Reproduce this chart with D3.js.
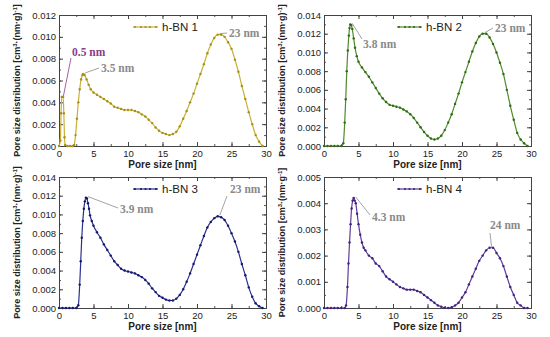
<!DOCTYPE html>
<html>
<head>
<meta charset="utf-8">
<script src="https://cdn.jsdelivr.net/npm/d3@7"></script>
<style>
  body { margin: 0; background: #fff; }
  svg { display: block; font-family: "Liberation Sans", Arial, sans-serif; }
</style>
</head>
<body>
<svg id="chart" width="550" height="337"></svg>
<script>
// pore size [nm] and distribution values
var bn1X = [0, 0.2, 0.3, 0.4, 0.5, 0.6, 0.7, 0.8, 0.9, 1.2, 1.6, 2.0, 2.2, 2.4, 2.6, 2.8, 3.0, 3.2, 3.4, 3.5, 3.7, 4.0, 4.3, 4.6, 5.0, 5.5, 6.0, 6.5, 7.0, 7.5, 8.0, 8.5, 9.0, 9.5, 10.0, 10.5, 11.0, 11.5, 12.0, 12.5, 13.0, 13.5, 14.0, 14.5, 15.0, 15.5, 16.0, 16.5, 17.0, 17.5, 18.0, 18.5, 19.0, 19.5, 20.0, 20.5, 21.0, 21.5, 22.0, 22.5, 23.0, 23.5, 24.0, 24.5, 25.0, 25.5, 26.0, 26.5, 27.0, 27.5, 28.0, 28.5, 29.0, 29.5];
var bn1Y = [0, 0.0005, 0.0030, 0.0045, 0.0045, 0.0045, 0.0030, 0.0008, 0.0001, 0, 0, 0, 0.0001, 0.0010, 0.0025, 0.0040, 0.0052, 0.0061, 0.0065, 0.0066, 0.0065, 0.0061, 0.0056, 0.0052, 0.0049, 0.0047, 0.0045, 0.0043, 0.0041, 0.0039, 0.0036, 0.0035, 0.0034, 0.0033, 0.0033, 0.0033, 0.0032, 0.0031, 0.0029, 0.0027, 0.0024, 0.0021, 0.0017, 0.0014, 0.0012, 0.0011, 0.0010, 0.0011, 0.0013, 0.0018, 0.0025, 0.0032, 0.0040, 0.0048, 0.0057, 0.0066, 0.0075, 0.0085, 0.0093, 0.0099, 0.0102, 0.0102, 0.0100, 0.0095, 0.0089, 0.0079, 0.0068, 0.0055, 0.0043, 0.0031, 0.0020, 0.0010, 0.0004, 0];

var bn2X = [0, 0.5, 1.0, 1.5, 2.0, 2.5, 2.8, 3.0, 3.15, 3.3, 3.45, 3.6, 3.7, 3.8, 3.95, 4.1, 4.3, 4.5, 4.75, 5.0, 5.5, 6.0, 6.5, 7.0, 7.5, 8.0, 8.5, 9.0, 9.5, 10.0, 10.5, 11.0, 11.5, 12.0, 12.5, 13.0, 13.5, 14.0, 14.5, 15.0, 15.5, 16.0, 16.5, 17.0, 17.5, 18.0, 18.5, 19.0, 19.5, 20.0, 20.5, 21.0, 21.5, 22.0, 22.5, 23.0, 23.5, 24.0, 24.5, 25.0, 25.5, 26.0, 26.5, 27.0, 27.5, 28.0, 28.5, 29.0, 29.5];
var bn2Y = [0, 0, 0, 0, 0, 0, 0.0003, 0.0025, 0.0050, 0.0080, 0.0102, 0.0118, 0.0126, 0.0130, 0.0129, 0.0125, 0.0115, 0.0105, 0.0096, 0.0090, 0.0084, 0.0079, 0.0074, 0.0068, 0.0062, 0.0056, 0.0051, 0.0047, 0.0044, 0.0043, 0.0042, 0.0041, 0.0039, 0.0037, 0.0034, 0.0030, 0.0025, 0.0020, 0.0015, 0.0011, 0.0008, 0.0007, 0.0008, 0.0011, 0.0017, 0.0025, 0.0034, 0.0045, 0.0056, 0.0068, 0.0079, 0.0090, 0.0101, 0.0110, 0.0117, 0.0120, 0.0120, 0.0116, 0.0109, 0.0100, 0.0089, 0.0077, 0.0060, 0.0043, 0.0028, 0.0014, 0.0007, 0.0003, 0];

var bn3X = [0, 0.5, 1.0, 1.5, 2.0, 2.5, 2.8, 3.0, 3.15, 3.3, 3.45, 3.6, 3.75, 3.9, 4.05, 4.2, 4.35, 4.5, 4.75, 5.0, 5.5, 6.0, 6.5, 7.0, 7.5, 8.0, 8.5, 9.0, 9.5, 10.0, 10.5, 11.0, 11.5, 12.0, 12.5, 13.0, 13.5, 14.0, 14.5, 15.0, 15.5, 16.0, 16.5, 17.0, 17.5, 18.0, 18.5, 19.0, 19.5, 20.0, 20.5, 21.0, 21.5, 22.0, 22.5, 23.0, 23.5, 24.0, 24.5, 25.0, 25.5, 26.0, 26.5, 27.0, 27.5, 28.0, 28.5, 29.0, 29.5];
var bn3Y = [0, 0, 0, 0, 0, 0, 0.0003, 0.0025, 0.0050, 0.0075, 0.0093, 0.0106, 0.0114, 0.0118, 0.0117, 0.0112, 0.0106, 0.0099, 0.0093, 0.0088, 0.0081, 0.0075, 0.0068, 0.0062, 0.0056, 0.0050, 0.0046, 0.0042, 0.0040, 0.0039, 0.0038, 0.0037, 0.0035, 0.0033, 0.0030, 0.0026, 0.0021, 0.0017, 0.0013, 0.0011, 0.0009, 0.0008, 0.0008, 0.0010, 0.0014, 0.0020, 0.0028, 0.0037, 0.0047, 0.0057, 0.0067, 0.0077, 0.0086, 0.0092, 0.0096, 0.0098, 0.0097, 0.0094, 0.0088, 0.0080, 0.0071, 0.0060, 0.0047, 0.0035, 0.0022, 0.0012, 0.0005, 0.0002, 0];

var bn4X = [0, 0.5, 1.0, 1.5, 2.0, 2.5, 3.0, 3.2, 3.4, 3.55, 3.7, 3.85, 4.0, 4.15, 4.3, 4.45, 4.6, 4.8, 5.0, 5.25, 5.5, 5.75, 6.0, 6.5, 7.0, 7.5, 8.0, 8.5, 9.0, 9.5, 10.0, 10.5, 11.0, 11.5, 12.0, 12.5, 13.0, 13.5, 14.0, 14.5, 15.0, 15.5, 16.0, 16.5, 17.0, 17.5, 18.0, 18.5, 19.0, 19.5, 20.0, 20.5, 21.0, 21.5, 22.0, 22.5, 23.0, 23.5, 24.0, 24.5, 25.0, 25.5, 26.0, 26.5, 27.0, 27.5, 28.0, 28.5, 29.0, 29.5];
var bn4Y = [0, 0, 0, 0, 0, 0, 0, 0.0001, 0.0008, 0.0017, 0.0025, 0.0032, 0.0038, 0.0041, 0.0042, 0.0041, 0.0040, 0.0036, 0.0032, 0.0028, 0.0025, 0.0023, 0.0022, 0.0020, 0.0019, 0.0017, 0.0016, 0.0014, 0.0012, 0.0011, 0.0010, 0.0009, 0.0008, 0.00075, 0.0007, 0.0007, 0.0007, 0.00065, 0.0006, 0.0005, 0.0004, 0.0003, 0.0002, 0.0001, 0.00005, 0.00001, 0, 0.00003, 0.0001, 0.0002, 0.0004, 0.0006, 0.0009, 0.0012, 0.0015, 0.0018, 0.0020, 0.0022, 0.0023, 0.0023, 0.0021, 0.0019, 0.0016, 0.0012, 0.0008, 0.0005, 0.0002, 0.0001, 0, 0];

var legendNames = ["h-BN 1", "h-BN  2", "h-BN 3", "h-BN 4"];
var yMaxes = [0.012, 0.014, 0.014, 0.005];
var yStepsMajor = [0.002, 0.002, 0.002, 0.001];

var panels = [
  { x: bn1X, y: bn1Y, left: 59, top: 15, line: "#c9b035", dot: "#a89010" },
  { x: bn2X, y: bn2Y, left: 324, top: 15, line: "#4f8a2c", dot: "#2f6a14" },
  { x: bn3X, y: bn3Y, left: 59, top: 177, line: "#2a2f8c", dot: "#14186a" },
  { x: bn4X, y: bn4Y, left: 324, top: 177, line: "#5e3c9a", dot: "#42207e" }
];
var pw = 207, ph = 131;
var svg = d3.select("#chart");

panels.forEach(function (p, i) {
  var g = svg.append("g").attr("transform", "translate(" + p.left + "," + p.top + ")");
  var x = d3.scaleLinear().domain([0, 30]).range([0, pw]);
  var y = d3.scaleLinear().domain([0, yMaxes[i]]).range([ph, 0]);
  var yTicks = d3.range(0, yMaxes[i] + 1e-9, yStepsMajor[i]);
  var yMinor = d3.range(0, yMaxes[i] + 1e-9, yStepsMajor[i] / 2);
  var fmt = d3.format(".3f");

  // minor ticks all sides
  [0, ph].forEach(function (yy, k) {
    g.append("g").attr("transform", "translate(0," + yy + ")")
      .call(d3.axisBottom(x).tickValues(d3.range(0, 30.1, 2.5)).tickSize(k ? -2 : 2).tickFormat(""))
      .call(function (a) { a.select(".domain").remove(); a.selectAll("line").attr("stroke", "#555"); });
  });
  [0, pw].forEach(function (xx, k) {
    g.append("g").attr("transform", "translate(" + xx + ",0)")
      .call(d3.axisLeft(y).tickValues(yMinor).tickSize(k ? 2 : -2).tickFormat(""))
      .call(function (a) { a.select(".domain").remove(); a.selectAll("line").attr("stroke", "#555"); });
  });

  var xAx = g.append("g").attr("transform", "translate(0," + ph + ")")
    .call(d3.axisBottom(x).tickValues([0, 5, 10, 15, 20, 25, 30]).tickSize(-4).tickPadding(4));
  var xTop = g.append("g")
    .call(d3.axisTop(x).tickValues([0, 5, 10, 15, 20, 25, 30]).tickSize(-4).tickFormat(""));
  var yAx = g.append("g")
    .call(d3.axisLeft(y).tickValues(yTicks).tickSize(-4).tickPadding(3).tickFormat(fmt));
  var yRight = g.append("g").attr("transform", "translate(" + pw + ",0)")
    .call(d3.axisRight(y).tickValues(yTicks).tickSize(-4).tickFormat(""));
  [xAx, xTop, yAx, yRight].forEach(function (a) {
    a.select(".domain").attr("stroke", "#444");
    a.selectAll("line").attr("stroke", "#444");
    a.selectAll("text").attr("font-size", 9.5).attr("fill", "#222")
      .attr("font-family", "'Liberation Sans', Arial, sans-serif");
  });

  var line = d3.line().x(function (d) { return x(d[0]); }).y(function (d) { return y(d[1]); })
    .curve(d3.curveMonotoneX);
  var pts = p.x.map(function (v, j) { return [v, p.y[j]]; });
  g.append("path").datum(pts).attr("d", line).attr("fill", "none")
    .attr("stroke", p.line).attr("stroke-width", 1.2);
  g.selectAll("circle.pt").data(pts).enter().append("circle").attr("class", "pt")
    .attr("cx", function (d) { return x(d[0]); })
    .attr("cy", function (d) { return y(d[1]); })
    .attr("r", 1.2).attr("fill", p.dot);

  // legend
  var lg = g.append("g").attr("transform", "translate(" + (i % 2 ? 73 : 74) + ",12)");
  lg.append("line").attr("x1", 0).attr("x2", 25).attr("stroke", p.line).attr("stroke-width", 1.2);
  lg.selectAll("circle").data([2, 8, 12.5, 17, 23]).enter().append("circle")
    .attr("cx", function (d) { return d; }).attr("r", 1.1).attr("fill", p.dot);
  lg.append("text").attr("x", 29).attr("y", 4).attr("font-size", 11.5).attr("fill", "#222")
    .text(legendNames[i]);

  // axis titles
  g.append("text").attr("x", pw / 2).attr("y", ph + 22).attr("text-anchor", "middle")
    .attr("font-size", 10).attr("font-weight", "bold").attr("fill", "#222").text("Pore size [nm]");
  var yt = g.append("text").attr("transform", "translate(-39," + (ph / 2) + ") rotate(-90)")
    .attr("text-anchor", "middle").attr("font-size", 9).attr("font-weight", "bold").attr("fill", "#222");
  yt.append("tspan").text("Pore size distribution [cm");
  yt.append("tspan").attr("dy", -3).attr("font-size", 6).text("3");
  yt.append("tspan").attr("dy", 3).text(i === 3 ? "·(nm·g" : "·(nm·g)");
  yt.append("tspan").attr("dy", -3).attr("font-size", 6).text("-1");
  yt.append("tspan").attr("dy", 3).text("]");

  p.g = g; p.xs = x; p.ys = y;
});

// peak annotations
var annoText = [
  [[3.5, 0.0066, "3.5 nm", 42, 57, "#8a8a8a"], [23, 0.0102, "23 nm", 170, 22, "#8a8a8a"], [0.5, 0.0045, "0.5 nm", 13, 41, "#8e3a86"]],
  [[3.8, 0.0130, "3.8 nm", 39, 33, "#8a8a8a"], [23, 0.0120, "23 nm", 171, 17, "#8a8a8a"]],
  [[3.9, 0.0118, "3.9 nm", 61, 36, "#8a8a8a"], [23, 0.0098, "23 nm", 171, 16, "#8a8a8a"]],
  [[4.3, 0.0042, "4.3 nm", 48, 44, "#8a8a8a"], [24, 0.0023, "24 nm", 166, 52, "#8a8a8a"]]
];
var arrowEnds = [
  [[40, 53], [168, 18], [12, 43]],
  [[38, 24], [169, 13]],
  [[59, 31], [168, 19]],
  [[46, 38], [166, 56]]
];
annoText.forEach(function (list, i) {
  var p = panels[i];
  list.forEach(function (a, k) {
    var px = p.xs(a[0]), py = p.ys(a[1]);
    var e = arrowEnds[i][k];
    p.g.append("line").attr("x1", e[0]).attr("y1", e[1]).attr("x2", px + (k === 2 ? 1 : 2)).attr("y2", py - 1)
      .attr("stroke", a[5]).attr("stroke-width", 0.8);
    p.g.append("text").attr("x", a[3]).attr("y", a[4])
      .attr("font-family", "'Liberation Serif', 'Times New Roman', serif")
      .attr("font-weight", "bold").attr("font-size", 11.5).attr("fill", a[5]).text(a[2]);
  });
});
</script>
</body>
</html>
